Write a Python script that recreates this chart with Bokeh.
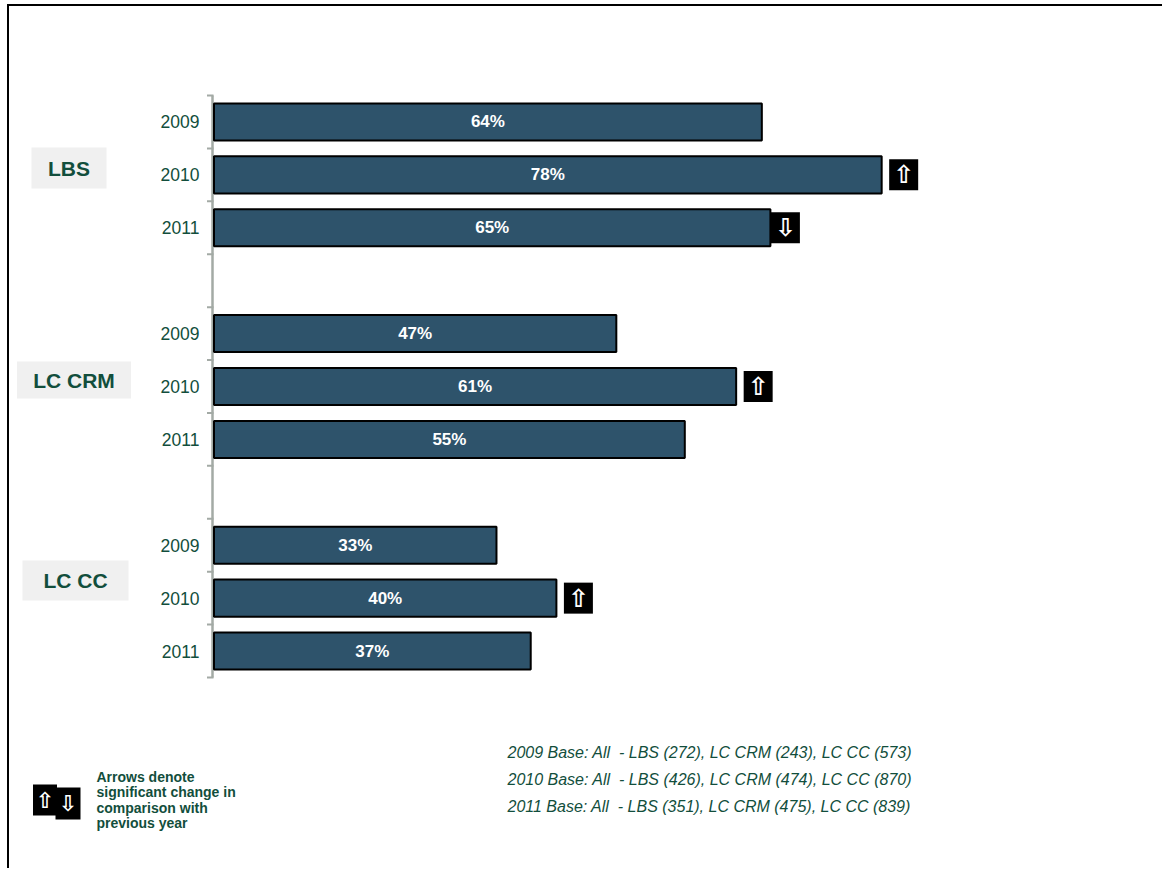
from bokeh.plotting import figure
from bokeh.models import Range1d, ColumnDataSource
from bokeh.core.properties import value
from bokeh.embed import file_html
from bokeh.resources import INLINE

# ---------------- data ----------------
groups = ["LBS", "LC CRM", "LC CC"]
years = ["2009", "2010", "2011"]
lbs_pct = [64, 78, 65]
lc_crm_pct = [47, 61, 55]
lc_cc_pct = [33, 40, 37]
lbs_change = ["", "up", "down"]
lc_crm_change = ["", "up", ""]
lc_cc_change = ["", "up", ""]
base_lbs = [272, 426, 351]
base_lc_crm = [243, 474, 475]
base_lc_cc = [573, 870, 839]
legend_lines = ["Arrows denote", "significant change in", "comparison with", "previous year"]

GREEN = "#124e3c"
BAR = "#2e536b"
GRAY = "#a3aaa5"
FONT = value("Liberation Sans")

# ---------------- layout (page pixels) ----------------
OX, OY = 9, 6            # figure position on page (after page border)
W, H = 1155, 864
PX_PER_PCT = 8.56        # horizontal scale
X0_PAGE = 213.5          # page x of 0 %
SLOT_TOP = 95            # page y of the top of the first slot
SLOT_PX = (677 - 95) / 11

x_start = (OX - X0_PAGE) / PX_PER_PCT
x_end = x_start + W / PX_PER_PCT
y_top = (OY - SLOT_TOP) / SLOT_PX
y_bot = y_top + H / SLOT_PX


def dx(px):
    return (px - X0_PAGE) / PX_PER_PCT


def dy(py):
    return (py - SLOT_TOP) / SLOT_PX


p = figure(width=W, height=H, output_backend="svg", toolbar_location=None,
           x_range=Range1d(x_start, x_end), y_range=Range1d(y_bot, y_top),
           min_border=0, x_axis_location=None, y_axis_location=None,
           outline_line_color=None)
p.styles = {"margin-left": "7px", "margin-top": "4px",
            "border-left": "2px solid black", "border-top": "2px solid black"}
p.grid.visible = False
p.background_fill_color = "white"
p.border_fill_color = "white"

all_vals = [lbs_pct, lc_crm_pct, lc_cc_pct]
all_chg = [lbs_change, lc_crm_change, lc_cc_change]
ys, vals, labels, half, yr_lab = [], [], [], [], []
arrow_x, arrow_y, arrow_t = [], [], []
for gi, (vs, chs) in enumerate(zip(all_vals, all_chg)):
    for yi, (v, c) in enumerate(zip(vs, chs)):
        yc = gi * 4 + yi + 0.5
        ys.append(yc)
        vals.append(v)
        half.append(v / 2)
        labels.append(f"{v}%")
        yr_lab.append(years[yi])
        if c:
            off = 22 if c == "up" else 15
            arrow_x.append(v + off / PX_PER_PCT)
            arrow_y.append(yc)
            arrow_t.append("\u21e7" if c == "up" else "\u21e9")

# ---------------- category axis (line, boundary ticks, year labels) ----------------
n_slots = 4 * len(groups) - 1
axis_x = dx(212)
p.segment(x0=[axis_x], y0=[0], x1=[axis_x], y1=[n_slots], line_color=GRAY, line_width=2.5)
bounds = list(range(n_slots + 1))
p.segment(x0=[dx(206.5)] * len(bounds), y0=bounds, x1=[dx(213)] * len(bounds), y1=bounds,
          line_color=GRAY, line_width=2)
p.text(x=[dx(199)] * len(ys), y=ys, text=yr_lab, text_align="right", text_baseline="middle",
       text_color=GREEN, text_font=FONT, text_font_size="17.5px")

# ---------------- bars ----------------
src = ColumnDataSource(dict(y=ys, v=vals, h=half, lab=labels))
p.hbar(y="y", right="v", left=0, height=0.7, source=src,
       fill_color=BAR, line_color="black", line_width=2)
p.text(x="h", y="y", text="lab", source=src, text_align="center", text_baseline="middle",
       text_color="white", text_font=FONT, text_font_style="bold", text_font_size="17px")

# significance arrows
asrc = ColumnDataSource(dict(x=arrow_x, y=arrow_y, t=arrow_t))
p.rect(x="x", y="y", width=29, height=31, width_units="screen", height_units="screen",
       source=asrc, fill_color="black", line_color=None)
p.text(x="x", y="y", text="t", source=asrc, text_align="center", text_baseline="middle",
       text_color="white", text_font=value("DejaVu Sans"), text_font_style="bold",
       text_font_size="25px")

# ---------------- group labels with grey boxes ----------------
grp_cx = [dx(68.5), dx(73.5), dx(75)]
grp_cy = [dy(167.5), dy(379.5), dy(580)]
grp_w = [75, 114, 106]
grp_h = [41, 37, 40]
p.rect(x=grp_cx, y=grp_cy, width=grp_w, height=grp_h, width_units="screen",
       height_units="screen", fill_color="#f0f0f0", line_color=None)
p.text(x=grp_cx, y=grp_cy, text=groups, text_align="center", text_baseline="middle",
       text_color=GREEN, text_font=FONT, text_font_style="bold", text_font_size="21px")

# ---------------- base footnotes ----------------
foot = [f"{yr} Base: All\u00a0 - LBS ({base_lbs[i]}), LC CRM ({base_lc_crm[i]}), LC CC ({base_lc_cc[i]})"
        for i, yr in enumerate(years)]
p.text(x=[dx(507)] * 3, y=[dy(752), dy(779), dy(806)], text=foot, text_align="left",
       text_baseline="middle", text_color=GREEN, text_font=FONT, text_font_style="italic",
       text_font_size="16px")

# ---------------- legend ----------------
p.rect(x=[dx(44.5), dx(67.5)], y=[dy(799.5), dy(803)], width=[24, 25], height=[31, 32],
       width_units="screen", height_units="screen", fill_color="black", line_color=None)
p.text(x=[dx(44.5), dx(67.5)], y=[dy(799.5), dy(803)], text=["\u21e7", "\u21e9"],
       text_align="center", text_baseline="middle", text_color="white",
       text_font=value("DejaVu Sans"), text_font_style="bold", text_font_size="22px")
p.text(x=[dx(96)] * 4, y=[dy(776 + 15.5 * i) for i in range(4)], text=legend_lines,
       text_align="left", text_baseline="middle", text_color=GREEN, text_font=FONT,
       text_font_style="bold", text_font_size="14px")

open("out.html", "w").write(file_html(p, INLINE))
